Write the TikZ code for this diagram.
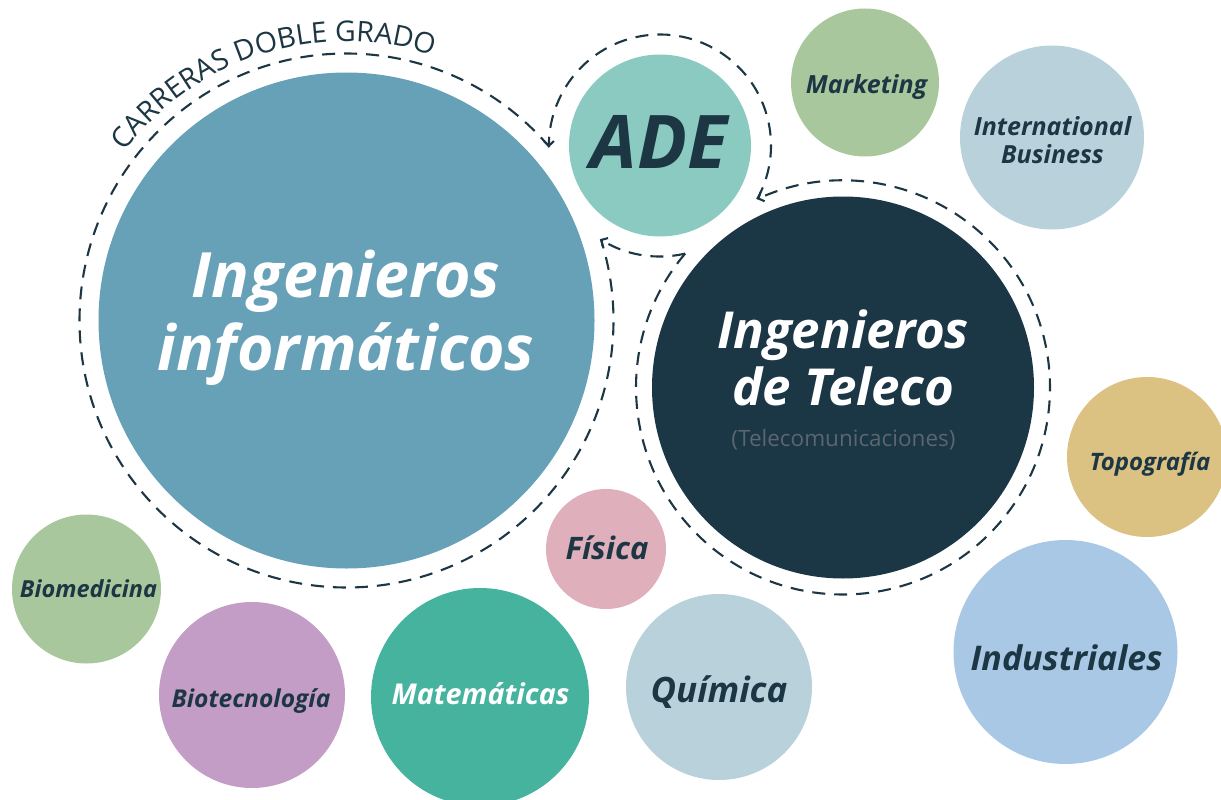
\documentclass[tikz,border=0pt]{standalone}
\usepackage{fontspec}
\setmainfont{Open Sans}
\usetikzlibrary{arrows.meta,decorations.text}
\definecolor{ink}{HTML}{1C3644}
\definecolor{cInfo}{HTML}{67A1B8}
\definecolor{cAde}{HTML}{8BCAC1}
\definecolor{cTel}{HTML}{1B3644}
\definecolor{cGreen}{HTML}{A8C79C}
\definecolor{cPale}{HTML}{B8D1DB}
\definecolor{cTopo}{HTML}{DBC282}
\definecolor{cIndus}{HTML}{A8C8E5}
\definecolor{cFis}{HTML}{E0AFBC}
\definecolor{cMate}{HTML}{46B39F}
\definecolor{cBiotec}{HTML}{C49DC7}
\definecolor{cParen}{HTML}{5A6670}
\begin{document}
\begin{tikzpicture}[x=1pt,y=-1pt,
  bubble/.style={circle, inner sep=0pt, draw=none, fill=#1},
  lbl/.style={anchor=base, inner sep=0pt, text=ink, font=\bfseries\itshape\fontsize{#1}{#1}\selectfont},
  wlbl/.style={anchor=base, inner sep=0pt, text=white, font=\bfseries\itshape\fontsize{#1}{#1}\selectfont},
  ring/.style={draw=ink, line width=2.1pt, dash pattern=on 13pt off 9pt},
  tipped/.style={-{Straight Barb[length=4.5pt,width=10pt]}}]
\useasboundingbox (0,0) rectangle (1221,800);

% bubbles
\node[bubble=cInfo, minimum size=496pt] (info) at (346.5,320.5) {};
\node[bubble=cAde, minimum size=182pt] (ade) at (660,145.5) {};
\node[bubble=cTel, minimum size=382pt] (tel) at (843,387.5) {};
\node[bubble=cGreen, minimum size=148pt] (mkt) at (865,82.5) {};
\node[bubble=cPale, minimum size=184pt] (ib) at (1052,137.5) {};
\node[bubble=cTopo, minimum size=160pt] (topo) at (1147,457) {};
\node[bubble=cIndus, minimum size=224pt] (indus) at (1065.5,652) {};
\node[bubble=cPale, minimum size=186pt] (quim) at (719,687) {};
\node[bubble=cFis, minimum size=120pt] (fis) at (606,549) {};
\node[bubble=cMate, minimum size=218pt] (mate) at (480,697) {};
\node[bubble=cBiotec, minimum size=186pt] (biotec) at (252,695) {};
\node[bubble=cGreen, minimum size=149pt] (biomed) at (86.5,589) {};

% dashed rings
\draw[ring] (info.center) ++(-40.5:267) arc[start angle=-40.5, end angle=-377.76, radius=267];
\draw[ring, tipped] (ade.center) ++(28.9:111) arc[start angle=28.9, end angle=-180.8, radius=111];
\draw[ring, tipped] (ade.center) ++(76.9:111) arc[start angle=76.9, end angle=122.5, radius=111];
\draw[ring, tipped] (tel.center) ++(-139.7:207) arc[start angle=-139.7, end angle=-474.5, radius=207];

% curved title
\path[decorate, decoration={text along path, text align=center,
  text={|\fontsize{28.5}{28.5}\selectfont\color{ink}|CARRERAS DOBLE GRADO}}]
  (info.center) ++(-160:279) arc[start angle=-160, end angle=-54.6, radius=279];

% labels
\node[wlbl=62.5] (infoA) at (346,297) {Ingenieros};
\node[wlbl=62.5] (infoB) at (346,370) {informáticos};
\node[lbl=74] (adeT) at (659,168) {ADE};
\node[wlbl=51] (telA) at (843,348) {Ingenieros};
\node[wlbl=51] (telB) at (843.5,405) {de Teleco};
\node[anchor=base, inner sep=0pt, text=cParen, font=\fontsize{22.5}{22.5}\selectfont] (telC) at (843.5,446) {(Telecomunicaciones)};
\node[lbl=25] (mktT) at (866.5,93) {Marketing};
\node[lbl=25] (ibA) at (1052.5,135) {International};
\node[lbl=25] (ibB) at (1052.5,163) {Business};
\node[lbl=24] (topoT) at (1150,470) {Topografía};
\node[lbl=34] (indusT) at (1066.5,670) {Industriales};
\node[lbl=23.5] (biomedT) at (88.5,597) {Biomedicina};
\node[lbl=24.6] (biotecT) at (251,707) {Biotecnología};
\node[wlbl=28.7] (mateT) at (480.5,704) {Matemáticas};
\node[lbl=31] (fisT) at (607,559) {Física};
\node[lbl=35] (quimT) at (719,702) {Química};
\end{tikzpicture}
\end{document}
